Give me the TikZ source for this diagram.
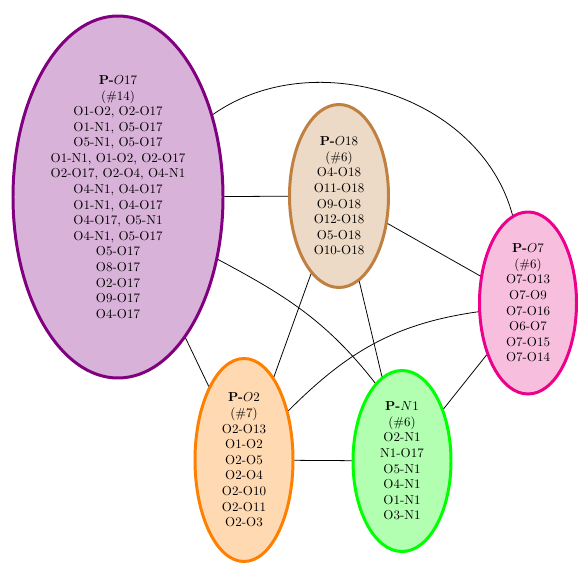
\documentclass[tikz,border=0pt]{standalone}
\usepackage{amsfonts, amssymb, amsmath}
\usepackage{tikz}
\usetikzlibrary{shapes.geometric}
\newcommand{\px}{0.77pt}
\definecolor{pinkfill}{RGB}{247,191,221}
\tikzset{e/.style={ellipse,line width=2.3pt,inner sep=0pt}}
\tikzset{t/.style={align=center,inner sep=0pt}}

\begin{document}
\begin{tikzpicture}[x=\px,y=\px]
          \useasboundingbox (0,0) rectangle (578,562);
          \node[e,draw=violet,fill=violet!30,minimum width=210*\px,minimum height=362*\px] (O17) at (118,365) {};
          \node[e,draw=brown,fill=brown!30,minimum width=99*\px,minimum height=183*\px] (O18) at (339,366) {};
          \node[e,draw=magenta,fill=pinkfill,minimum width=97*\px,minimum height=182*\px] (O7) at (528,259) {};
          \node[e,draw=orange,fill=orange!30,minimum width=98*\px,minimum height=203*\px] (O2) at (244,102) {};
          \node[e,draw=green,fill=green!30,minimum width=98*\px,minimum height=181*\px] (N1) at (402,101) {};
          \node[t] (O17t) at (O17) {\textbf{P-}$O17$\\(\#14)\\O1-O2, O2-O17\\O1-N1, O5-O17\\O5-N1, O5-O17\\O1-N1, O1-O2, O2-O17\\O2-O17, O2-O4, O4-N1\\O4-N1, O4-O17\\O1-N1, O4-O17\\O4-O17, O5-N1\\O4-N1, O5-O17\\O5-O17\\O8-O17\\O2-O17\\O9-O17\\O4-O17};
          \node[t] (O18t) at (O18) {\textbf{P-}$O18$\\(\#6)\\O4-O18\\O11-O18\\O9-O18\\O12-O18\\O5-O18\\O10-O18};
          \node[t] (O7t) at (O7) {\textbf{P-}$O7$\\(\#6)\\O7-O13\\O7-O9\\O7-O16\\O6-O7\\O7-O15\\O7-O14};
          \node[t] (O2t) at (O2) {\textbf{P-}$O2$\\(\#7)\\O2-O13\\O1-O2\\O2-O5\\O2-O4\\O2-O10\\O2-O11\\O2-O3};
          \node[t] (N1t) at (N1) {\textbf{P-}$N1$\\(\#6)\\O2-N1\\N1-O17\\O5-N1\\O4-N1\\O1-N1\\O3-N1};
          \begin{scope}[line width=0.6pt]
          \draw (O17) -- (O18);
          \draw (O17) -- (O2);
          \draw (O17.41) to[out=35,in=105] (O7.100);
          \draw (O17.-32) to[out=-28,in=128] (N1.109);
          \draw (O18) -- (O7);
          \draw (O18) -- (O2);
          \draw (O18) -- (N1);
          \draw (O7.190) to[out=188,in=45] (O2.48);
          \draw (O7) -- (N1);
          \draw (O2) -- (N1);
          \end{scope}
        \end{tikzpicture}
\end{document}
